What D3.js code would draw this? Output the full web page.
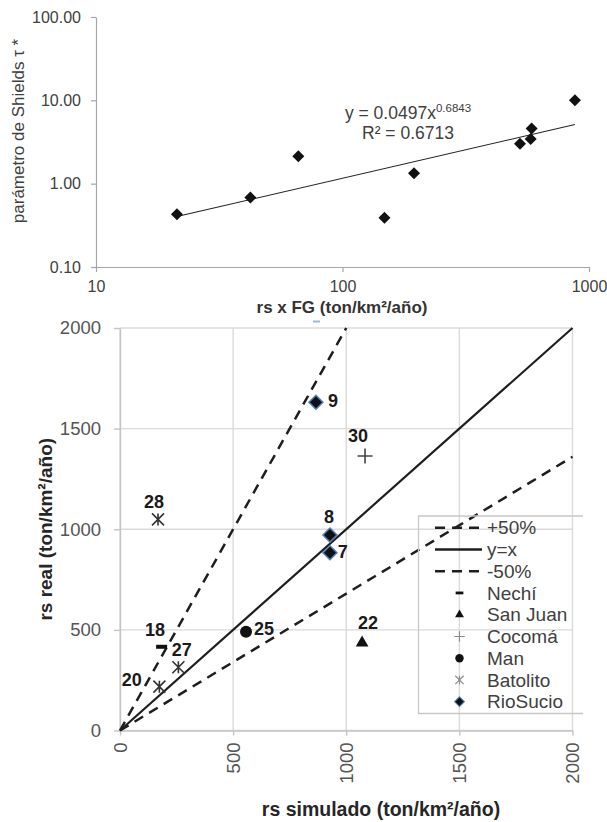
<!DOCTYPE html>
<html>
<head>
<meta charset="utf-8">
<script src="https://cdn.jsdelivr.net/npm/d3@7"></script>
<style>
  body { margin: 0; background: #fff; }
  svg  { display: block; font-family: "Liberation Sans", Arial, sans-serif; }
</style>
</head>
<body>
<svg id="chart" width="607" height="822"></svg>
<script>
// --- grafico superiore: rs x FG contro parametro di Shields
const rsFG    = [21.3, 42.3, 66.2, 148, 195, 525, 580, 585, 877];
const shields = [0.43, 0.68, 2.14, 0.39, 1.33, 3.02, 3.43, 4.6, 10.0];
const fitA = 0.0497, fitB = 0.6843, fitR2 = 0.6713;
const topXTicks = [10, 100, 1000];
const topYTicks = [0.1, 1, 10, 100];

// --- grafico inferiore: rs simulato contro rs reale
const basins       = ['Nechí', 'San Juan', 'Cocomá', 'Man', 'Batolito', 'RioSucio'];
const stations     = ['9', '30', '28', '8', '7', '25', '22', '18', '27', '20'];
const stationBasin = ['RioSucio', 'Cocomá', 'Batolito', 'RioSucio', 'RioSucio', 'Man', 'San Juan', 'Nechí', 'Batolito', 'Batolito'];
const rsSim  = [866, 1083, 168, 928, 928, 557, 1070, 184, 258, 174];
const rsReal = [1631, 1364, 1049, 971, 883, 491, 436, 416, 314, 218];
const refNames  = ['+50%', 'y=x', '-50%'];
const refSlopes = [2, 1, 0.68];
const bottomTicks = [0, 500, 1000, 1500, 2000];

// posizione delle etichette rispetto al punto (px)
const labelOffset = {
  '9': [17, -2], '30': [-7, -20], '28': [-4, -17.6], '8': [-1, -18.3], '7': [12.7, -1],
  '25': [18, -3.4], '22': [6, -20], '18': [-6.7, -17.4], '27': [3.4, -17.3], '20': [-27.6, -7.4]
};

const svg = d3.select('#chart');
const TXT = '#404040';

// ================= grafico superiore =================
const xTop = d3.scaleLog().domain([10, 1000]).range([96, 589]);
const yTop = d3.scaleLog().domain([0.1, 100]).range([267, 17]);

const gTop = svg.append('g');

const yAxTop = gTop.append('g')
  .attr('transform', 'translate(96,0)')
  .call(d3.axisLeft(yTop).tickValues(topYTicks).tickFormat(d3.format('.2f'))
    .tickSize(5).tickSizeOuter(0).tickPadding(10));
const xAxTop = gTop.append('g')
  .attr('transform', 'translate(0,267)')
  .call(d3.axisBottom(xTop).tickValues(topXTicks).tickFormat(d3.format('d'))
    .tickSize(5).tickSizeOuter(0).tickPadding(9));
[yAxTop, xAxTop].forEach(ax => {
  ax.select('.domain').attr('stroke', '#a6a6a6').attr('stroke-width', 1.2);
  ax.selectAll('.tick line').attr('stroke', '#a6a6a6').attr('stroke-width', 1.2);
  ax.selectAll('text').attr('fill', TXT).style('font-size', '16px')
    .style('font-family', '"Liberation Sans", Arial, sans-serif');
});

// linea di tendenza potenza
const fitX = d3.extent(rsFG);
const fitPts = [fitX[0], fitX[1]].map(x => [x, fitA * Math.pow(x, fitB)]);
gTop.append('path')
  .attr('d', d3.line().x(d => xTop(d[0])).y(d => yTop(d[1]))(fitPts))
  .attr('fill', 'none').attr('stroke', '#222').attr('stroke-width', 1.1);

// punti (rombi)
gTop.selectAll('.pt')
  .data(rsFG.map((x, i) => [x, shields[i]]))
  .enter().append('path')
  .attr('d', 'M0,-6L6,0L0,6L-6,0Z')
  .attr('transform', d => `translate(${xTop(d[0])},${yTop(d[1])})`)
  .attr('fill', '#111');

// equazione
const eq = gTop.append('text')
  .attr('x', 408).attr('y', 119).attr('text-anchor', 'middle')
  .attr('fill', TXT).style('font-size', '17.5px');
eq.append('tspan').text(`y = ${fitA}x`);
eq.append('tspan').attr('dy', -7).style('font-size', '11.5px').text(fitB);
gTop.append('text')
  .attr('x', 408).attr('y', 139).attr('text-anchor', 'middle')
  .attr('fill', TXT).style('font-size', '17.5px')
  .text(`R² = ${fitR2}`);

// titoli assi
gTop.append('text')
  .attr('x', 342).attr('y', 313).attr('text-anchor', 'middle')
  .attr('fill', '#333').style('font-size', '17px').style('font-weight', 'bold')
  .text('rs x FG (ton/km²/año)');
gTop.append('text')
  .attr('transform', 'translate(23.5,131) rotate(-90)').attr('text-anchor', 'middle')
  .attr('fill', TXT).style('font-size', '17px')
  .text('parámetro de Shields τ *');
// piccolo segno blu sotto il titolo (presente nell'originale)
gTop.append('line').attr('x1', 313).attr('x2', 320).attr('y1', 321.5).attr('y2', 321.5)
  .attr('stroke', '#9db7d8').attr('stroke-width', 2);

// ================= grafico inferiore =================
const xBot = d3.scaleLinear().domain([0, 2000]).range([120, 572.5]);
const yBot = d3.scaleLinear().domain([0, 2000]).range([730.5, 328]);

const gBot = svg.append('g');

// griglia
gBot.append('g').selectAll('line').data(bottomTicks).enter().append('line')
  .attr('x1', d => xBot(d)).attr('x2', d => xBot(d))
  .attr('y1', yBot(0)).attr('y2', yBot(2000))
  .attr('stroke', '#dadada').attr('stroke-width', 1.4);
gBot.append('g').selectAll('line').data(bottomTicks).enter().append('line')
  .attr('y1', d => yBot(d)).attr('y2', d => yBot(d))
  .attr('x1', xBot(0)).attr('x2', xBot(2000))
  .attr('stroke', '#dadada').attr('stroke-width', 1.4);

const yAxBot = gBot.append('g')
  .attr('transform', `translate(${xBot(0)},0)`)
  .call(d3.axisLeft(yBot).tickValues(bottomTicks).tickFormat(d3.format('d'))
    .tickSize(6).tickSizeOuter(0).tickPadding(13));
const xAxBot = gBot.append('g')
  .attr('transform', `translate(0,${yBot(0)})`)
  .call(d3.axisBottom(xBot).tickValues(bottomTicks).tickFormat(d3.format('d'))
    .tickSize(5).tickSizeOuter(0));
xAxBot.selectAll('.tick text')
  .attr('transform', 'rotate(-90)').attr('text-anchor', 'end')
  .attr('x', -12).attr('y', 0).attr('dy', '0.35em');
[yAxBot, xAxBot].forEach(ax => {
  ax.select('.domain').attr('stroke', '#c4c4c4').attr('stroke-width', 1.4);
  ax.selectAll('.tick line').attr('stroke', '#c4c4c4').attr('stroke-width', 1.4);
  ax.selectAll('text').attr('fill', '#555').style('font-size', '18.5px')
    .style('font-family', '"Liberation Sans", Arial, sans-serif');
});

// rette di riferimento
const refDash = { '+50%': '10,7', 'y=x': null, '-50%': '10,7' };
refSlopes.forEach((s, i) => {
  const end = s >= 1 ? [2000 / s, 2000] : [2000, 2000 * s];
  gBot.append('path')
    .attr('d', d3.line().x(d => xBot(d[0])).y(d => yBot(d[1]))([[0, 0], end]))
    .attr('fill', 'none').attr('stroke', '#1e1e1e')
    .attr('stroke-width', refDash[refNames[i]] ? 2.5 : 2.2)
    .attr('stroke-dasharray', refDash[refNames[i]]);
});

// marcatori per bacino
function drawMarker(sel, basin, k) {
  if (basin === 'Nechí') {
    sel.append('rect').attr('x', -5.5 * k).attr('y', -2 * k)
      .attr('width', 11 * k).attr('height', 4 * k).attr('fill', '#111');
  } else if (basin === 'San Juan') {
    sel.append('path').attr('d', d3.symbol(d3.symbolTriangle).size(70 * k * k)())
      .attr('fill', '#111');
  } else if (basin === 'Cocomá') {
    const h = 7.5 * k;
    sel.append('path').attr('d', `M${-h},0H${h}M0,${-h}V${h}`)
      .attr('stroke', k < 1 ? '#8a8a8a' : '#444').attr('stroke-width', 1.6 * k).attr('fill', 'none');
  } else if (basin === 'Man') {
    sel.append('circle').attr('r', 6 * k).attr('fill', '#111');
  } else if (basin === 'Batolito') {
    const h = 6 * k;
    sel.append('path').attr('d', `M0,${-h}V${h}M${-h},${-h}L${h},${h}M${-h},${h}L${h},${-h}`)
      .attr('stroke', k < 1 ? '#8a8a8a' : '#333').attr('stroke-width', 1.6 * k).attr('fill', 'none');
  } else if (basin === 'RioSucio') {
    const h = 7 * k;
    sel.append('path').attr('d', `M0,${-h}L${h},0L0,${h}L${-h},0Z`)
      .attr('fill', '#111').attr('stroke', '#4f7fb8').attr('stroke-width', 1.5 * k);
  }
}

const pts = gBot.selectAll('.st')
  .data(stations.map((id, i) => ({ id, basin: stationBasin[i], x: rsSim[i], y: rsReal[i] })))
  .enter().append('g')
  .attr('transform', d => `translate(${xBot(d.x)},${yBot(d.y)})`);
pts.each(function (d) { drawMarker(d3.select(this), d.basin, 1); });
pts.append('text')
  .attr('x', d => labelOffset[d.id][0]).attr('y', d => labelOffset[d.id][1])
  .attr('dy', '0.35em').attr('text-anchor', 'middle')
  .attr('fill', '#1a1a1a').style('font-size', '18px').style('font-weight', 'bold')
  .text(d => d.id);

// legenda (senza sfondo, bordo aperto a destra)
const lg = gBot.append('g');
lg.append('path')
  .attr('d', 'M583,516H418.5V713.5H583')
  .attr('fill', 'none').attr('stroke', '#c8c8c8').attr('stroke-width', 1.3);
const rowY = i => 527.7 + i * 21.75;
refNames.forEach((n, i) => {
  lg.append('line').attr('x1', 435).attr('x2', 482).attr('y1', rowY(i)).attr('y2', rowY(i))
    .attr('stroke', '#1e1e1e').attr('stroke-width', 2.4).attr('stroke-dasharray', refDash[n]);
  lg.append('text').attr('x', 487).attr('y', rowY(i)).attr('dy', '0.35em')
    .attr('fill', TXT).style('font-size', '19px').text(n);
});
basins.forEach((b, j) => {
  const i = j + refNames.length;
  const m = lg.append('g').attr('transform', `translate(459.5,${rowY(i)})`);
  drawMarker(m, b, 0.7);
  lg.append('text').attr('x', 487).attr('y', rowY(i)).attr('dy', '0.35em')
    .attr('fill', TXT).style('font-size', '19px').text(b);
});

// titoli assi
gBot.append('text')
  .attr('x', 381).attr('y', 815.5).attr('text-anchor', 'middle')
  .attr('fill', '#262626').style('font-size', '19.5px').style('font-weight', 'bold')
  .text('rs simulado (ton/km²/año)');
gBot.append('text')
  .attr('transform', `translate(52,${(yBot(0) + yBot(2000)) / 2}) rotate(-90)`)
  .attr('text-anchor', 'middle')
  .attr('fill', '#262626').style('font-size', '19px').style('font-weight', 'bold')
  .text('rs real (ton/km²/año)');
</script>
</body>
</html>
